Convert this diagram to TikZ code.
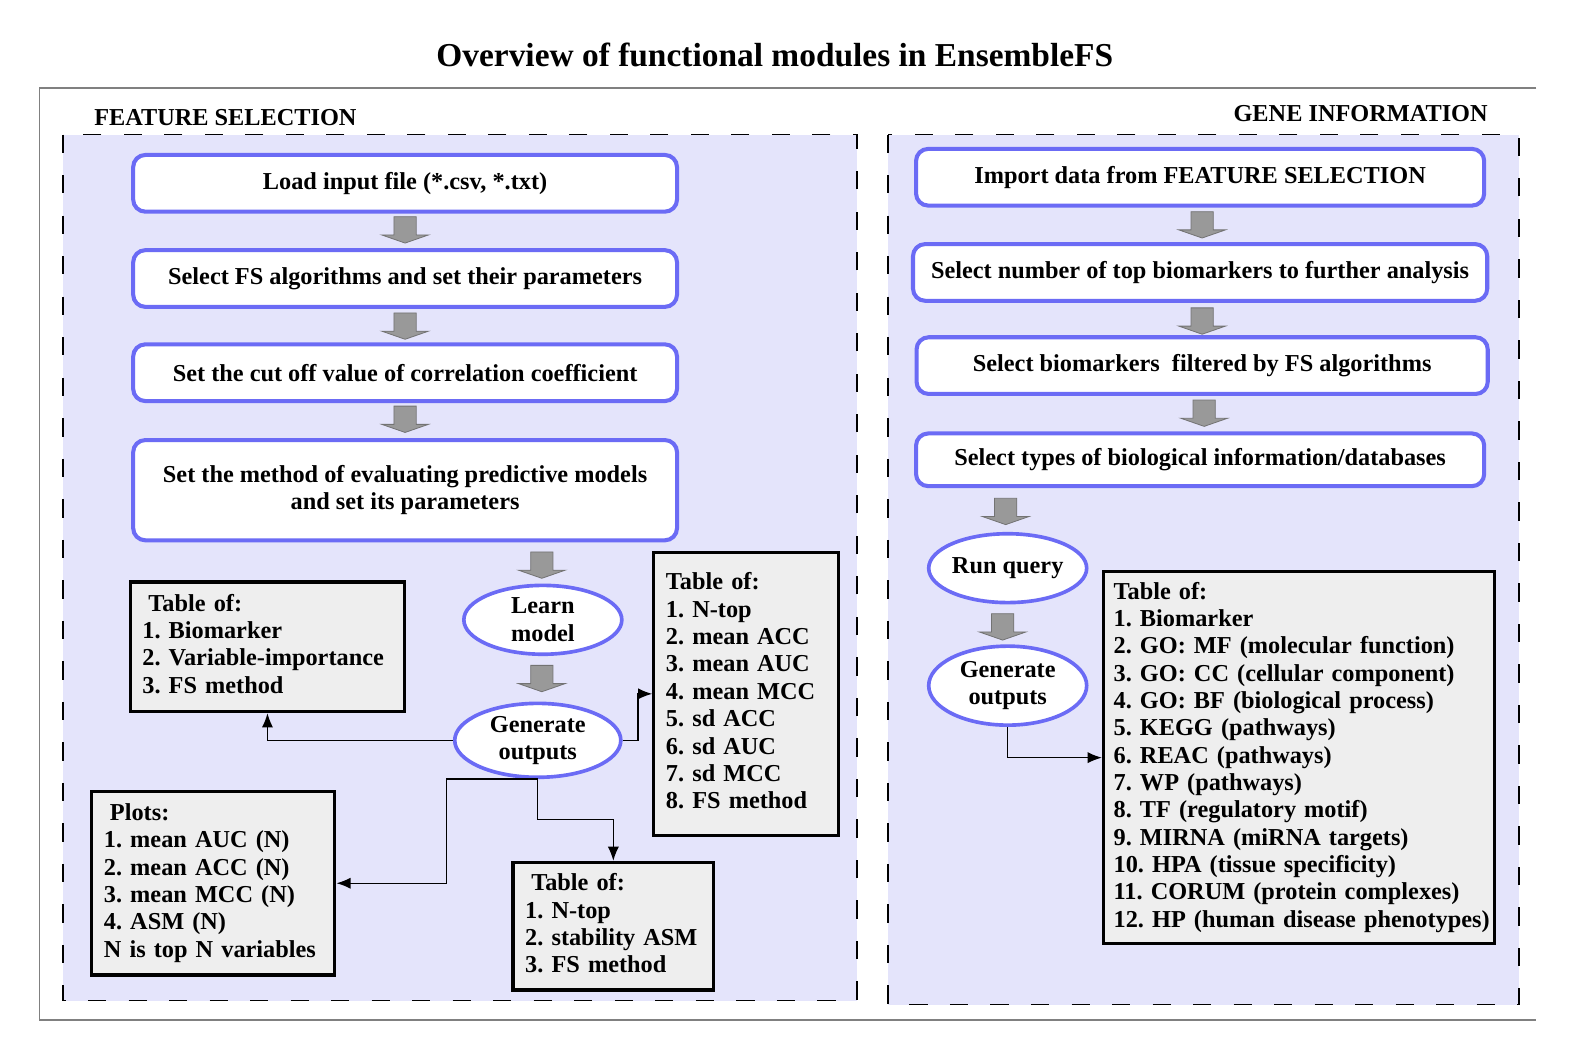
\documentclass[tikz,border=0pt]{standalone}
\usepackage{fontspec}
\setmainfont{Liberation Serif}
\usetikzlibrary{shapes.geometric, arrows.meta, positioning}
\frenchspacing

\definecolor{panelfill}{HTML}{E4E4FB}
\definecolor{stepblue}{HTML}{6B6BF5}
\definecolor{tablefill}{HTML}{EEEEEE}
\definecolor{blockgray}{HTML}{999999}

% Define the looks of the boxes once
\tikzset{
  stepbox/.style={draw=stepblue, line width=2pt, fill=white, rounded corners=6pt,
    align=center, inner sep=0pt, minimum width=268.5pt, minimum height=28pt},
  oval/.style={ellipse, draw=stepblue, line width=1.8pt, fill=white, align=center,
    inner sep=0pt, minimum width=78pt, minimum height=34pt},
  tablebox/.style={draw=black, line width=1.6pt, fill=tablefill, align=left,
    anchor=north west, inner xsep=6pt, inner ysep=0pt},
  panel/.style={fill=panelfill, draw=black, line width=0.75pt, dash pattern=on 9pt off 11pt},
  conn/.style={line width=0.65pt, -{Latex[length=7pt,width=5.5pt]}},
}

\newcommand{\blockdown}[2]{%
  \filldraw[fill=blockgray, draw=gray!90!black, line width=0.4pt]
    (#1-11,#2) -- (#1+11,#2) -- (#1+11,#2+18) -- (#1+23,#2+18) -- (#1,#2+26)
    -- (#1-23,#2+18) -- (#1-11,#2+18) -- cycle;}
\newcommand{\tablines}[1]{\begin{tabular}{@{}l@{}}#1\end{tabular}}

\begin{document}
\begin{tikzpicture}[x=0.5pt, y=-0.5pt, font=\fontsize{12}{13.5}\selectfont\bfseries]
    \useasboundingbox (0,0) rectangle (1568,1045);

    \node[font=\fontsize{16.5}{18}\selectfont\bfseries] (title) at (765,54) {Overview of functional modules in EnsembleFS};
    \draw[gray, line width=0.8pt] (1517,87) -- (39,87) -- (39,1007) -- (1517,1007);

    % the two panels
    \draw[panel] (62,133) rectangle (846,988);
    \draw[panel] (877,133) rectangle (1500,992);
    \node[anchor=west] (fslabel) at (86,116) {FEATURE SELECTION};
    \node[anchor=east] (gilabel) at (1476,112) {GENE INFORMATION};

    % FEATURE SELECTION
    \node[stepbox] (load) at (400,181) {Load input file (*.csv, *.txt)};
    \node[stepbox] (algo) at (400,275) {Select FS algorithms and set their parameters};
    \node[stepbox] (cutoff) at (400,368) {Set the cut off value of correlation coefficient};
    \node[stepbox, minimum height=49.5pt] (evalm) at (400,484) {Set the method of evaluating predictive models\\and set its parameters};
    \node[oval] (learn) at (536,612) {Learn\\model};
    \node[oval, minimum width=82pt, minimum height=36.5pt] (genL) at (531,731) {Generate\\outputs};

    \node[tablebox, text width=123.5pt, minimum height=64pt] (tabimp) at (127,573)
      {\tablines{\hspace{3pt}Table of:\\1. Biomarker\\2. Variable-importance\\3. FS method}};
    \node[tablebox, text width=79pt, minimum height=139.5pt] (tabperf) at (644,544)
      {\tablines{Table of:\\1. N-top\\2. mean ACC\\3. mean AUC\\4. mean MCC\\5. sd ACC\\6. sd AUC\\7. sd MCC\\8. FS method}};
    \node[tablebox, text width=87pt, minimum height=63pt] (tabstab) at (505,850)
      {\tablines{\hspace{3pt}Table of:\\1. N-top\\2. stability ASM\\3. FS method}};
    \node[tablebox, text width=108pt, minimum height=90.5pt] (plots) at (89,780)
      {\tablines{\hspace{3pt}Plots:\\1. mean AUC (N)\\2. mean ACC (N)\\3. mean MCC (N)\\4. ASM (N)\\N is top N variables}};

    % GENE INFORMATION
    \node[stepbox, minimum width=280.5pt] (import) at (1185,175) {Import data from FEATURE SELECTION};
    \node[stepbox, minimum width=283.5pt] (topn) at (1185,269) {Select number of top biomarkers to further analysis};
    \node[stepbox, minimum width=282pt] (filt) at (1187,361) {Select biomarkers~ filtered by FS algorithms};
    \node[stepbox, minimum width=280.5pt, minimum height=26pt] (dbsel) at (1185,454) {Select types of biological information/databases};
    \node[oval] (query) at (995,561) {Run query};
    \node[oval, minimum height=39pt] (genR) at (995,677) {Generate\\outputs};

    \node[tablebox, text width=183pt, inner xsep=5pt, minimum height=183.5pt] (tabgo) at (1088,563)
      {\tablines{Table of:\\1. Biomarker\\2. GO: MF (molecular function)\\3. GO: CC (cellular component)\\4. GO: BF (biological process)\\5. KEGG (pathways)\\6. REAC (pathways)\\7. WP (pathways)\\8. TF (regulatory motif)\\9. MIRNA (miRNA targets)\\10. HPA (tissue specificity)\\11. CORUM (protein complexes)\\12. HP (human disease phenotypes)}};

    % grey block arrows
    \foreach \x/\y in {400/214, 400/309, 400/401, 535/545, 535/657,
                       1187/209, 1187/304, 1189/395, 993/492, 990/606} {
        \blockdown{\x}{\y}
    }

    % connectors
    \draw[conn] (genL.west) -| (tabimp.south);
    \draw[conn] (genL.east) -- ++(15,0) |- (tabperf.west);
    \draw[conn] (genL.south) -- ++(-90,0) |- (plots.east);
    \draw[conn] (genL.south) -- ++(0,40) -| (tabstab.north);
    \draw[conn] (genR.south) |- (tabgo.west);
\end{tikzpicture}
\end{document}
